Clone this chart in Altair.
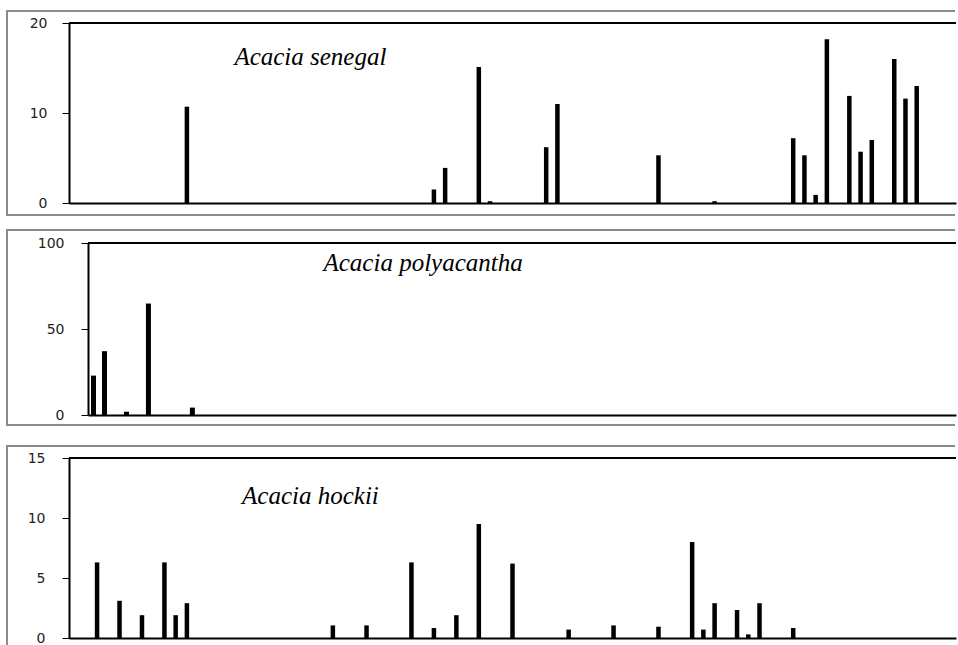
import altair as alt
import pandas as pd

# ---- data ----
categories = list(range(1, 80))  # sampling plots along the x axis

senegal_plots = [11, 33, 34, 37, 38, 43, 44, 53, 58, 65, 66, 67, 68, 70, 71, 72, 74, 75, 76]
senegal_values = [10.7, 1.5, 3.9, 15.1, 0.2, 6.2, 11.0, 5.3, 0.2, 7.2, 5.3, 0.9, 18.2, 11.9, 5.7, 7.0, 16.0, 11.6, 13.0]

polyacantha_plots = [1, 2, 4, 6, 10]
polyacantha_values = [22.9, 37.1, 1.9, 64.8, 4.3]

hockii_plots = [3, 5, 7, 9, 10, 11, 24, 27, 31, 33, 35, 37, 40, 45, 49, 53, 56, 57, 58, 60, 61, 62, 65]
hockii_values = [6.3, 3.1, 1.9, 6.3, 1.9, 2.9, 1.05, 1.05, 6.3, 0.83, 1.9, 9.5, 6.2, 0.7, 1.05, 0.94, 8.0, 0.7, 2.9, 2.33, 0.3, 2.9, 0.83]

y_max = [20, 100, 15]
y_ticks = [[0, 10, 20], [0, 50, 100], [0, 5, 10, 15]]
titles = ["Acacia senegal", "Acacia polyacantha", "Acacia hockii"]
title_plot = [22, 31, 22]
title_value = [15.3, 83.7, 11.2]

FRAME = "#8c8c8c"
W = 887


def one_row():
    return pd.DataFrame({"k": [0]})


def panel(plots, values, ymax, ticks, title, tplot, tvalue, height, inset,
          label_pad, frame_top, frame_bottom, bar_size, draw_bottom=True):
    df = pd.DataFrame({"plot": plots, "value": values})
    x = alt.X("plot:O",
              scale=alt.Scale(domain=categories, range=[inset, W],
                              paddingInner=0, paddingOuter=0),
              axis=alt.Axis(labels=False, ticks=False, title=None, grid=False,
                            domainColor="black", domainWidth=2))
    y = alt.Y("value:Q",
              scale=alt.Scale(domain=[0, ymax], nice=False, zero=True),
              axis=alt.Axis(values=ticks, title=None, grid=False, offset=-inset,
                            domainColor="black", domainWidth=2,
                            tickColor="black", tickSize=7, tickWidth=1,
                            labelFont="DejaVu Sans", labelFontSize=14,
                            labelColor="#222222", labelPadding=label_pad))
    bars = alt.Chart(df).mark_bar(color="black", size=bar_size).encode(x=x, y=y)

    tdf = pd.DataFrame({"plot": [tplot], "value": [tvalue], "label": [title]})
    text = alt.Chart(tdf).mark_text(font="Liberation Serif", fontStyle="italic",
                                    fontSize=25, align="center", baseline="alphabetic",
                                    color="black").encode(x=x, y=y, text="label:N")

    top_line = alt.Chart(one_row()).mark_rule(color="black", strokeWidth=2).encode(
        x=alt.value(inset), x2=alt.value(W), y=alt.value(0))

    frame_left = -62
    frame_l = alt.Chart(one_row()).mark_rule(color=FRAME, strokeWidth=2).encode(
        x=alt.value(frame_left), y=alt.value(frame_top - 1), y2=alt.value(frame_bottom + 1))
    frame_t = alt.Chart(one_row()).mark_rule(color=FRAME, strokeWidth=2).encode(
        x=alt.value(frame_left), x2=alt.value(W - 1), y=alt.value(frame_top))
    layers = [frame_l, frame_t]
    if draw_bottom:
        frame_b = alt.Chart(one_row()).mark_rule(color=FRAME, strokeWidth=2).encode(
            x=alt.value(frame_left), x2=alt.value(W - 1), y=alt.value(frame_bottom))
        layers.append(frame_b)
    return alt.layer(*layers, top_line, bars, text).properties(width=W, height=height)


p1 = panel(senegal_plots, senegal_values, y_max[0], y_ticks[0], titles[0], title_plot[0],
           title_value[0], 180, 0, 15, -12, 192, 4.5)
p2 = panel(polyacantha_plots, polyacantha_values, y_max[1], y_ticks[1], titles[1], title_plot[1],
           title_value[1], 172, 19, 17, -13, 182, 5)
p3 = panel(hockii_plots, hockii_values, y_max[2], y_ticks[2], titles[2], title_plot[2],
           title_value[2], 180, 0, 17, -12, 200, 4.5, draw_bottom=False)

chart = alt.vconcat(alt.vconcat(p1, p2, spacing=11), p3, spacing=17).properties(
    padding={"left": 6, "top": 9, "right": 0, "bottom": 0},
    background="white",
).configure_view(stroke=None)

chart.save("out.html", embed_options={"renderer": "svg", "actions": False})
